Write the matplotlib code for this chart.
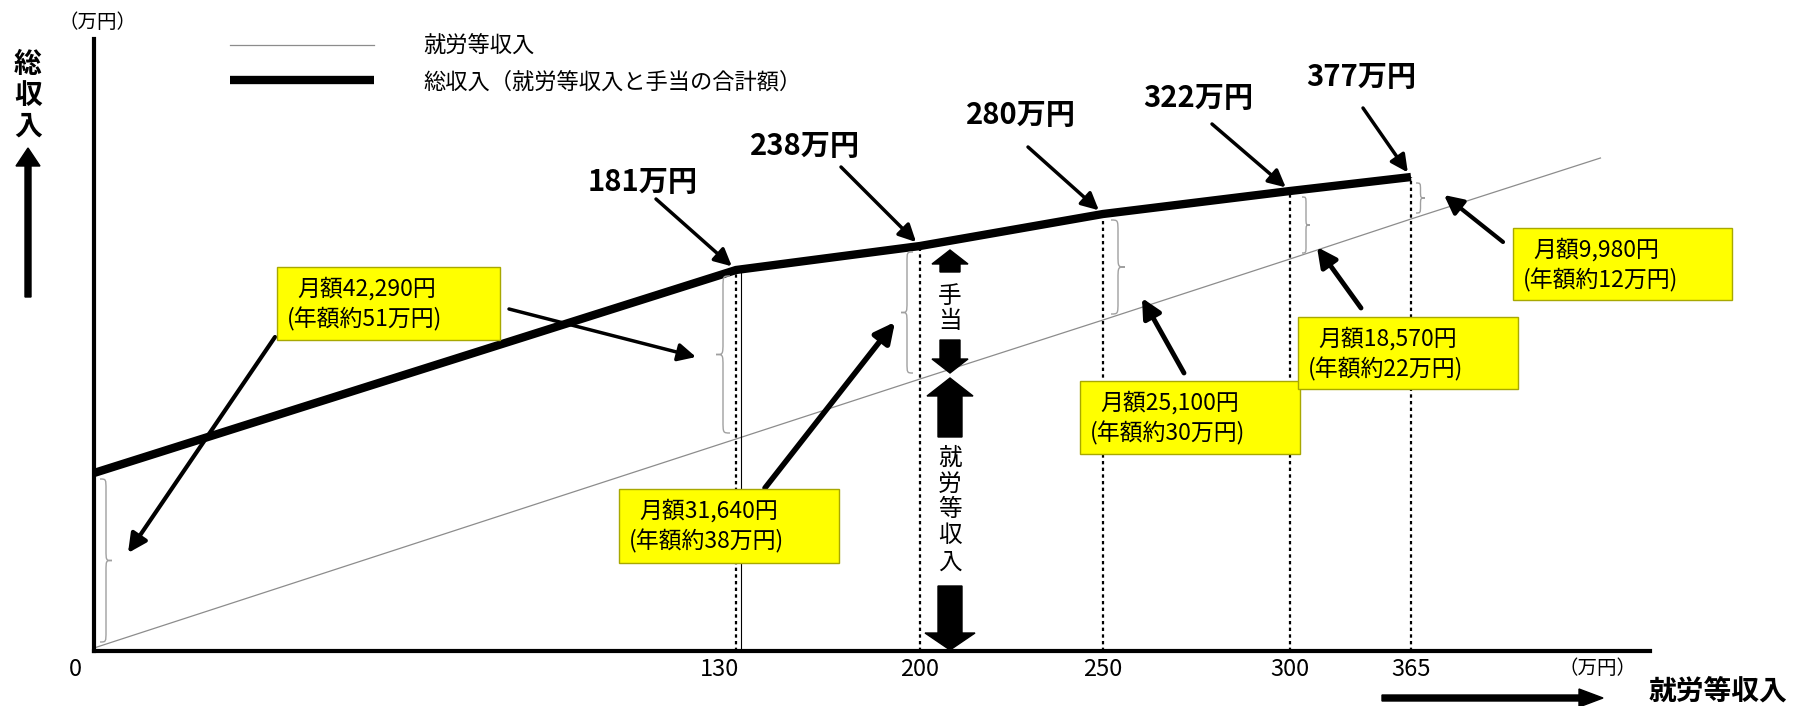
import numpy as np
import matplotlib
matplotlib.use('Agg')
import matplotlib.pyplot as plt
import matplotlib.transforms as mtransforms
from matplotlib.patches import Rectangle, FancyArrow, PathPatch
from matplotlib.path import Path

plt.rcParams['font.family'] = ['Noto Sans CJK JP', 'DejaVu Sans']

# --- データ（万円） ---
earnings = [0, 130, 200, 250, 300, 365]             # 就労等収入
total_income = [51, 181, 238, 280, 322, 377]         # 総収入
allowance_month = [42290, 31640, 25100, 18570, 9980]  # 手当 月額（円）
allowance_year = [51, 38, 30, 22, 12]                # 手当 年額（万円）

# 模式図なので縦方向は目盛なしの「描画高さ」
earnings_line_x = [0, 130, 200, 250, 300, 365, 472]
earnings_level = [3, 212, 272, 331, 392, 432, 493]
total_level = [178, 381, 405, 437, 460, 474]

# --- レイアウト ---
W, H = 1794, 706
x_knots_val = [0, 130, 200, 250, 300, 365, 500]   # 横軸は等間隔ではない
x_knots_px = [0, 642, 826, 1009, 1196, 1317, 1556]


def fwd(v):
    return np.interp(v, x_knots_val, x_knots_px)


def inv(p):
    return np.interp(p, x_knots_px, x_knots_val)


def P(x, y):
    # 上端基準のピクセル -> figure pixels
    return (x, H - y)


ident = mtransforms.IdentityTransform()

fig = plt.figure(figsize=(W / 100, H / 100), dpi=100)
ax = fig.add_axes([94 / W, 55 / H, 1556 / W, 612 / H])
ax.set_xscale('function', functions=(fwd, inv))
ax.set_xlim(0, 500)
ax.set_ylim(0, 612)

thin, = ax.plot(earnings_line_x, earnings_level, color='#8c8c8c', lw=0.9,
                label='就労等収入', zorder=2)
thick, = ax.plot(earnings, total_level, color='k', lw=6, zorder=4,
                 solid_joinstyle='miter', solid_capstyle='butt',
                 label='総収入（就労等収入と手当の合計額）')

ax.vlines(earnings[1:], 0, total_level[1:], colors='k', lw=1.6,
          linestyles=(0, (1.5, 1.5)), zorder=3)
ax.vlines([earnings[1]], 0, total_level[1], colors='k', lw=0.8, zorder=3,
          transform=mtransforms.offset_copy(ax.transData, fig=fig, x=5, y=0, units='dots'))

for s in ['top', 'right']:
    ax.spines[s].set_visible(False)
ax.spines['left'].set_linewidth(3)
ax.spines['bottom'].set_linewidth(3)
ax.set_yticks([])
ax.set_xticks(earnings)
ax.set_xticklabels([str(e) for e in earnings])
ax.tick_params(axis='x', length=0, pad=5, labelsize=17)
for lab, dx in zip(ax.get_xticklabels()[:2], [-19, -17]):
    lab.set_transform(lab.get_transform() + mtransforms.ScaledTranslation(dx / 100, 0, fig.dpi_scale_trans))

ax.legend(handles=[thin, thick], loc='center left',
          bbox_to_anchor=(230 / W, 1 - 64 / H), bbox_transform=fig.transFigure,
          frameon=False, fontsize=16, handlelength=6.5, handletextpad=2.2,
          labelspacing=0.55, borderpad=0, borderaxespad=0)


# 中括弧
def brace(xd, y0, y1, side, w):
    ym = (y0 + y1) / 2
    r = min(w * 0.9, (y1 - y0) / 4)
    h = w / 2 * side
    v = [(xd, y0),
         (xd + h, y0), (xd + h, y0), (xd + h, y0 + r),
         (xd + h, ym - r),
         (xd + h, ym), (xd + h, ym), (xd + 2 * h, ym),
         (xd + h, ym), (xd + h, ym), (xd + h, ym + r),
         (xd + h, y1 - r),
         (xd + h, y1), (xd + h, y1), (xd, y1)]
    c = [Path.MOVETO, Path.CURVE4, Path.CURVE4, Path.CURVE4, Path.LINETO,
         Path.CURVE4, Path.CURVE4, Path.CURVE4, Path.CURVE4, Path.CURVE4, Path.CURVE4,
         Path.LINETO, Path.CURVE4, Path.CURVE4, Path.CURVE4]
    fig.add_artist(PathPatch(Path(v, c), fill=False, edgecolor='#a0a0a0', lw=1,
                             transform=ident, zorder=3))


brace_style = [(1, 6, 12), (-1, 6, 14), (-1, 7, 12), (1, 8, 14), (1, 12, 8), (1, 5, 9)]
for i, (side, gap, w) in enumerate(brace_style):
    e = earnings[i]
    xl, ylo = ax.transData.transform((e, earnings_level[i]))
    _, yhi = ax.transData.transform((e, total_level[i]))
    brace(xl + side * gap, ylo + 6, yhi - 6, side, w)

# 総収入ラベル
label_pos = [(643, 182), (805, 146), (1021, 115), (1198, 98), (1361, 77)]
label_tail = [(656, 199), (841, 167), (1028, 147), (1212, 124), (1363, 108)]
for i, (pos, tail) in enumerate(zip(label_pos, label_tail)):
    fig.text(pos[0] / W, 1 - pos[1] / H, f'{total_income[i + 1]}万円',
             fontsize=21, fontweight='bold', ha='center', va='center')
    ax.annotate('', xy=(earnings[i + 1], total_level[i + 1]), xycoords='data',
                xytext=P(*tail), textcoords='figure pixels',
                arrowprops=dict(arrowstyle='-|>', color='k', lw=2.5,
                                mutation_scale=26, shrinkA=0, shrinkB=4),
                zorder=6)

# 手当の注記
boxes = [(277, 267, 223, 73), (619, 489, 220, 74), (1080, 381, 220, 73),
         (1298, 317, 220, 72), (1513, 228, 219, 72)]
for i, (l, t, w, h) in enumerate(boxes):
    fig.add_artist(Rectangle((l, H - t - h), w, h, transform=ident,
                             facecolor='#ffff00', edgecolor='#a8a800', lw=1, zorder=5))
    fig.text((l + 20) / W, 1 - (t + 22) / H, f'月額{allowance_month[i]:,}円',
             fontsize=16.5, ha='left', va='center', zorder=6)
    fig.text((l + 10) / W, 1 - (t + 52) / H, f'(年額約{allowance_year[i]}万円)',
             fontsize=16.5, ha='left', va='center', zorder=6)

note_arrows = [((275, 337), (128, 553), 3.0), ((509, 309), (696, 357), 2.5),
               ((765, 488), (895, 322), 4.0), ((1184, 373), (1142, 298), 3.5),
               ((1361, 308), (1317, 247), 3.5), ((1503, 242), (1444, 195), 3.0)]
for tail, tip, lw in note_arrows:
    ax.annotate('', xy=P(*tip), xycoords='figure pixels',
                xytext=P(*tail), textcoords='figure pixels',
                arrowprops=dict(arrowstyle='-|>', color='k', lw=lw,
                                mutation_scale=22 + 2 * lw, shrinkA=0, shrinkB=0),
                zorder=6)

# 太い矢印
fat = [(950, 272, 250, 20, 36, 14), (950, 340, 373, 20, 36, 14),
       (950, 437, 378, 24, 46, 18), (950, 586, 650, 24, 50, 17),
       (28, 297, 148, 6, 24, 18)]
for x, ty, py, wd, hw, hl in fat:
    fig.add_artist(FancyArrow(x, H - ty, 0, ty - py, width=wd, head_width=hw,
                              head_length=hl, length_includes_head=True,
                              transform=ident, color='k', zorder=6))
fig.add_artist(FancyArrow(1382, H - 698, 1603 - 1382, 0, width=6, head_width=18,
                          head_length=24, length_includes_head=True,
                          transform=ident, color='k', zorder=6))

for k, ch in enumerate('手当'):
    fig.text(950 / W, 1 - (296 + 26 * k) / H, ch, fontsize=17, ha='center', va='center')
for k, ch in enumerate('就労等収入'):
    fig.text(950 / W, 1 - (458 + 26 * k) / H, ch, fontsize=17, ha='center', va='center')
for k, ch in enumerate('総収入'):
    fig.text(28 / W, 1 - (65 + 31 * k) / H, ch, fontsize=20, fontweight='bold',
             ha='center', va='center')

fig.text(97 / W, 1 - 23 / H, '（万円）', fontsize=14, ha='center', va='center')
fig.text(1597 / W, 1 - 668 / H, '（万円）', fontsize=14, ha='center', va='center')
fig.text(1649 / W, 1 - 692 / H, '就労等収入', fontsize=20, fontweight='bold',
         ha='left', va='center')

fig.savefig('out.png', dpi=100)
